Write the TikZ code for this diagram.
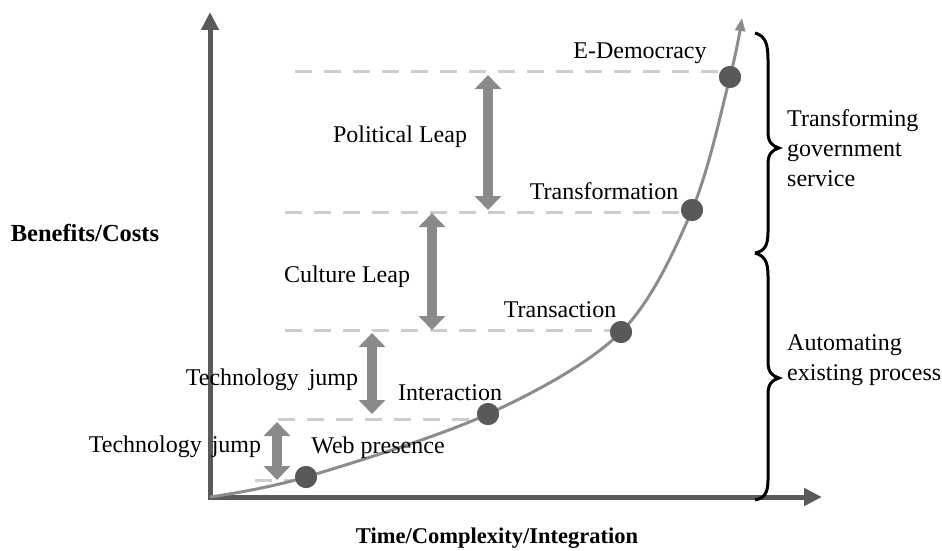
\documentclass[tikz,border=0pt]{standalone}
\usepackage{fontspec}
\setmainfont{Liberation Serif}
\usetikzlibrary{arrows.meta}
\definecolor{axisgray}{HTML}{5A5A5A}
\definecolor{curvegray}{HTML}{8C8C8C}
\definecolor{dotgray}{HTML}{595959}
\definecolor{leapgray}{HTML}{8A8A8A}
\definecolor{guidegray}{HTML}{CDCDCD}
\newcommand\mywidespace{\spaceskip 10pt\relax}
\begin{document}
\begin{tikzpicture}[x=1pt,y=-1pt,
 axis/.style={draw=axisgray, line width=5pt, -{Triangle[width=17pt,length=18pt]}},
 curve/.style={draw=curvegray, line width=3pt, -{Triangle[width=10pt,length=13pt]}},
 dot/.style={circle, fill=dotgray, minimum size=22pt, inner sep=0pt},
 leap/.style={draw=leapgray, line width=10pt, {Triangle[width=26pt,length=14pt]}-{Triangle[width=26pt,length=14pt]}},
 guide/.style={draw=guidegray, line width=3pt, dash pattern=on 17pt off 12pt},
 lbl/.style={font=\fontsize{24}{30}\selectfont, inner sep=0pt},
 widelbl/.style={font=\fontsize{24}{30}\selectfont\mywidespace, inner sep=0pt},
 blbl/.style={font=\fontsize{24.5}{28}\selectfont\bfseries, inner sep=0pt},
 brace/.style={draw=black, line width=3pt}]
\useasboundingbox (0,0) rectangle (942,551);

% points
\coordinate (o) at (210,497);
\coordinate (ytip) at (210,12);
\coordinate (xtip) at (822,497);
\coordinate (ctip) at (742,18);
\node[dot] (wp) at (306,477) {};
\node[dot] (ia) at (488,414) {};
\node[dot] (tr) at (621,332) {};
\node[dot] (tf) at (692,210) {};
\node[dot] (ed) at (730,77) {};

% guides
\coordinate (g1) at (295,72);
\coordinate (g2) at (285,212);
\coordinate (g3) at (285,330);
\coordinate (g4) at (278,419);
\coordinate (g5) at (255,480);
\draw[guide] (g1) -- (g1 -| ed.west);
\draw[guide] (g2) -- (g2 -| tf.west);
\draw[guide] (g3) -- (g3 -| tr.west);
\draw[guide] (g4) -- (g4 -| ia.west);
\draw[guide] (g5) -- (g5 -| wp.west);

% leaps
\coordinate (a1t) at (277,422); \coordinate (a1b) at (277,480);
\coordinate (a2t) at (372,333); \coordinate (a2b) at (372,414);
\coordinate (a3t) at (432,213); \coordinate (a3b) at (432,330);
\coordinate (a4t) at (488,75);  \coordinate (a4b) at (488,210);
\draw[leap] (a1t) -- (a1b);
\draw[leap] (a2t) -- (a2b);
\draw[leap] (a3t) -- (a3b);
\draw[leap] (a4t) -- (a4b);

% axes
\draw[axis] (210,499.5) -- (ytip);
\draw[axis] (o) -- (xtip);

% curve
\draw[curve] plot[smooth, tension=0.55] coordinates {(o) (wp) (ia) (tr) (tf) (ed) (ctip)};
\foreach \n in {wp,ia,tr,tf,ed} \node[dot] at (\n) {};

% braces
\draw[brace] (755,33) .. controls (766,36) and (768,45) .. (768,60) -- (768,132)
  .. controls (768,142) and (772,146) .. (779,148)
  .. controls (772,150) and (768,154) .. (768,164) -- (768,232)
  .. controls (768,245) and (765,251) .. (755,253);
\draw[brace] (755,253) .. controls (765,256) and (768,262) .. (768,276) -- (768,362)
  .. controls (768,372) and (772,376) .. (779,378)
  .. controls (772,380) and (768,384) .. (768,394) -- (768,480)
  .. controls (768,492) and (765,498) .. (755,500);

% labels
\node[widelbl] (t1) at (175,447) {Technology jump};
\node[widelbl] (t2) at (272,380) {Technology jump};
\node[lbl] (lwp) at (378,448) {Web presence};
\node[lbl] (lia) at (450,393) {Interaction};
\node[lbl] (ltr) at (560,310) {Transaction};
\node[lbl] (lcl) at (347,277) {Culture Leap};
\node[lbl] (ltf) at (604,191) {Transformation};
\node[lbl] (lpl) at (400,137) {Political Leap};
\node[lbl] (led) at (640,53) {E-Democracy};
\node[blbl] (yl) at (85,233) {Benefits/Costs};
\node[blbl, font=\fontsize{22.5}{26}\selectfont\bfseries] (xl) at (497,538) {Time/Complexity/Integration};
\node[lbl, align=left, anchor=west] (rt) at (787,148) {Transforming\\government\\service};
\node[lbl, align=left, anchor=west] (ra) at (787,360) {Automating\\existing process};
\end{tikzpicture}
\end{document}
